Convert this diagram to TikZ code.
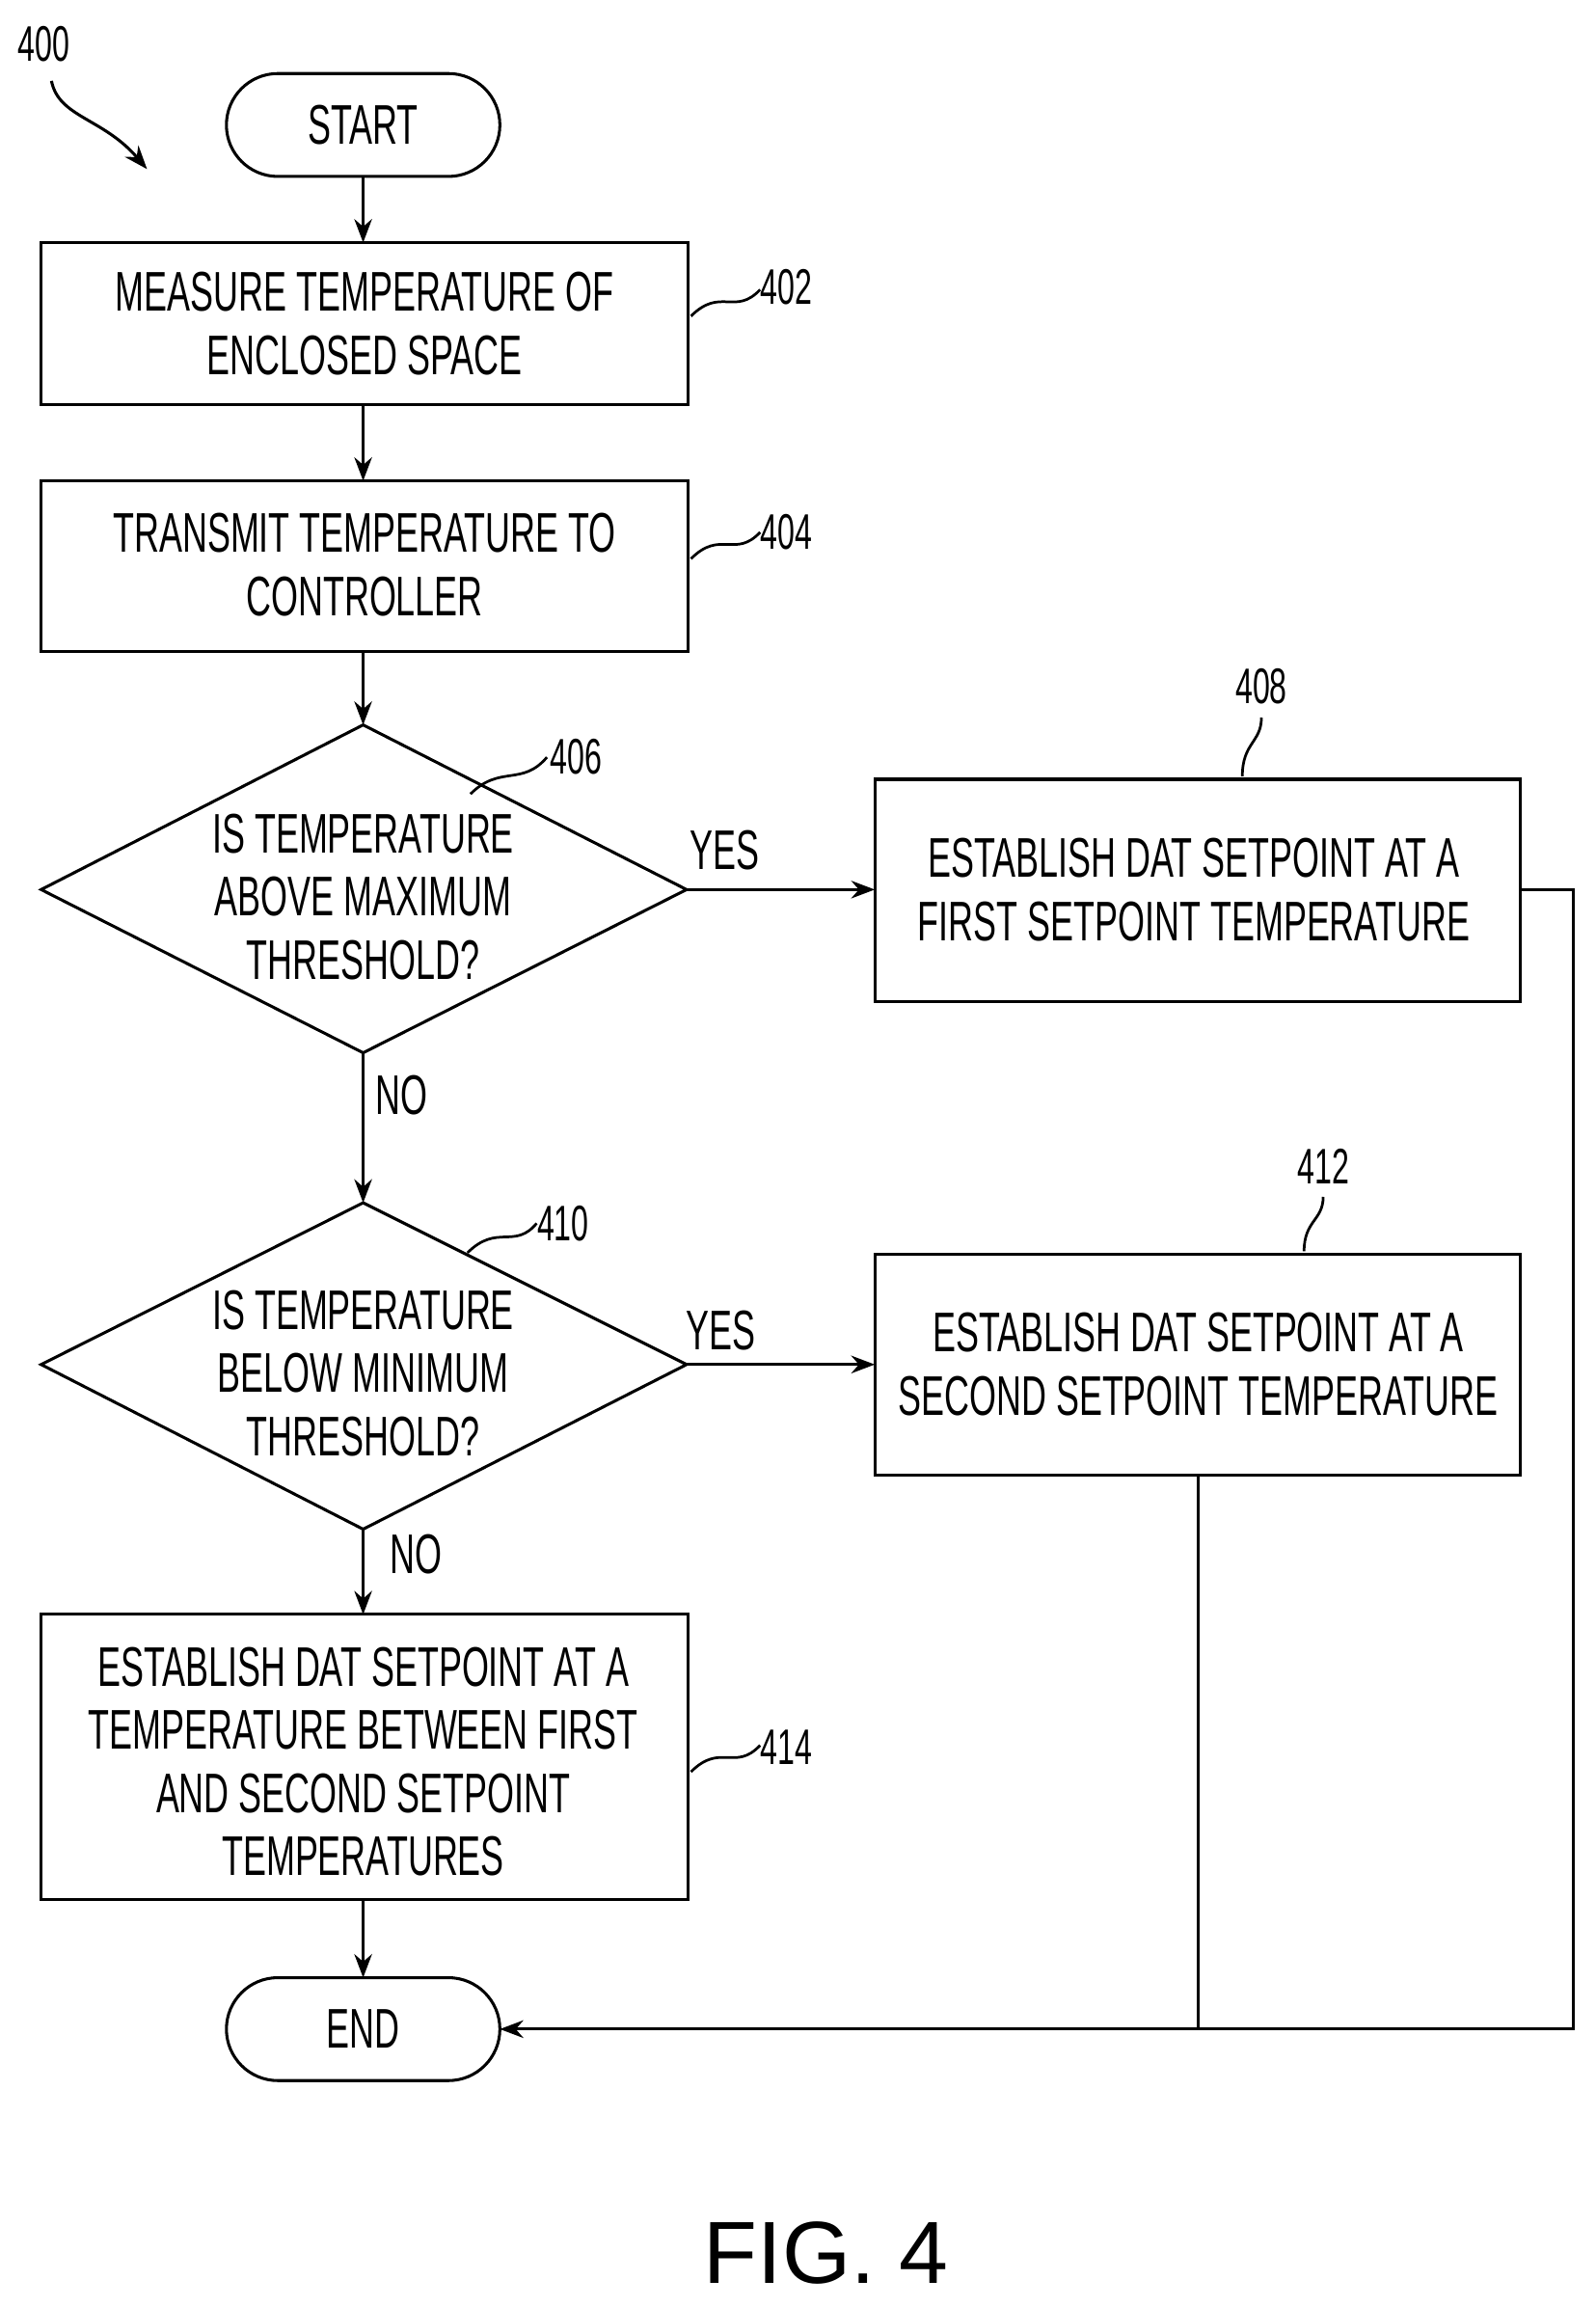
\documentclass[tikz,border=0pt]{standalone}
\usepackage{fontspec}
\setmainfont{Liberation Sans}
\newfontfamily\cond[FakeStretch=0.62]{Liberation Sans}
\usetikzlibrary{arrows.meta,shapes.geometric}
\begin{document}
\begin{tikzpicture}[x=1pt,y=-1pt,
  every node/.style={font=\cond\fontsize{38}{43}\selectfont, align=center, inner sep=0},
  box/.style={draw, line width=2pt},
  lbl/.style={font=\cond\fontsize{34}{38}\selectfont},
  ln/.style={line width=2pt},
  arr/.style={line width=2pt,-{Stealth[length=16pt,width=12pt]}},
  lead/.style={line width=1.8pt}]
\useasboundingbox (0,0) rectangle (1085,1569);
% START
\draw[box,rounded corners=35pt] (154,50) rectangle (340,120);
\node (start) at (247,85) {START};
\coordinate (sb) at (247,120);
% 400
\node[lbl] (l400) at (30,30) {400};
\coordinate (a400) at (100,115);
\draw[arr] (35,55) .. controls (40,80) and (70,80) .. (a400);
% 402
\draw[box] (28,165) rectangle (468,275);
\node (b402) at (248,220) {MEASURE TEMPERATURE OF\\ENCLOSED SPACE};
\node[lbl] (l402) at (535,195) {402};
\draw[lead] (470,215) .. controls (490,195) and (500,215) .. (517,197);
\draw[arr] (sb) -- (247,165);
% 404
\draw[box] (28,327) rectangle (468,443);
\node (b404) at (248,384) {TRANSMIT TEMPERATURE TO\\CONTROLLER};
\node[lbl] (l404) at (535,362) {404};
\draw[lead] (470,380) .. controls (490,360) and (500,380) .. (517,362);
\draw[arr] (247,275) -- (247,327);
% 406
\draw[box] (28,605) -- (247,493) -- (467,605) -- (247,716) -- cycle;
\node (d406) at (247,610) {IS TEMPERATURE\\ABOVE MAXIMUM\\THRESHOLD?};
\node[lbl] (l406) at (392,515) {406};
\draw[lead] (320,540) .. controls (340,520) and (355,535) .. (372,515);
\draw[arr] (247,443) -- (247,493);
% 408
\draw[box] (595,530) rectangle (1034,681);
\node (b408) at (812,605) {ESTABLISH DAT SETPOINT AT A\\FIRST SETPOINT TEMPERATURE};
\node[lbl] (l408) at (858,467) {408};
\draw[lead] (845,528) .. controls (845,505) and (858,505) .. (858,488);
\node (y1) at (493,578) {YES};
\draw[arr] (467,605) -- (595,605);
\node (n1) at (273,745) {NO};
\draw[arr] (247,716) -- (247,818);
% 410
\draw[box] (28,928) -- (247,818) -- (467,928) -- (247,1040) -- cycle;
\node (d410) at (247,934) {IS TEMPERATURE\\BELOW MINIMUM\\THRESHOLD?};
\node[lbl] (l410) at (383,832) {410};
\draw[lead] (318,852) .. controls (338,832) and (350,850) .. (365,832);
% 412
\draw[box] (595,853) rectangle (1034,1003);
\node (b412) at (815,928) {ESTABLISH DAT SETPOINT AT A\\SECOND SETPOINT TEMPERATURE};
\node[lbl] (l412) at (900,793) {412};
\draw[lead] (887,851) .. controls (887,830) and (900,830) .. (900,814);
\node (y2) at (490,905) {YES};
\draw[arr] (467,928) -- (595,928);
\node (n2) at (283,1057) {NO};
\draw[arr] (247,1040) -- (247,1098);
% 414
\draw[box] (28,1098) rectangle (468,1292);
\node (b414) at (247,1198) {ESTABLISH DAT SETPOINT AT A\\TEMPERATURE BETWEEN FIRST\\AND SECOND SETPOINT\\TEMPERATURES};
\node[lbl] (l414) at (535,1188) {414};
\draw[lead] (470,1205) .. controls (490,1185) and (500,1205) .. (517,1187);
% END
\draw[box,rounded corners=35pt] (154,1345) rectangle (340,1415);
\node (end) at (247,1380) {END};
\draw[arr] (247,1292) -- (247,1345);
\draw[ln] (1034,605) -- (1070,605) -- (1070,1380) -- (815,1380);
\draw[ln] (815,1003) -- (815,1380);
\draw[arr] (815,1380) -- (340,1380);
% FIG
\node[font=\fontsize{60}{66}\selectfont] (fig) at (562,1532) {FIG. 4};
\end{tikzpicture}
\end{document}
